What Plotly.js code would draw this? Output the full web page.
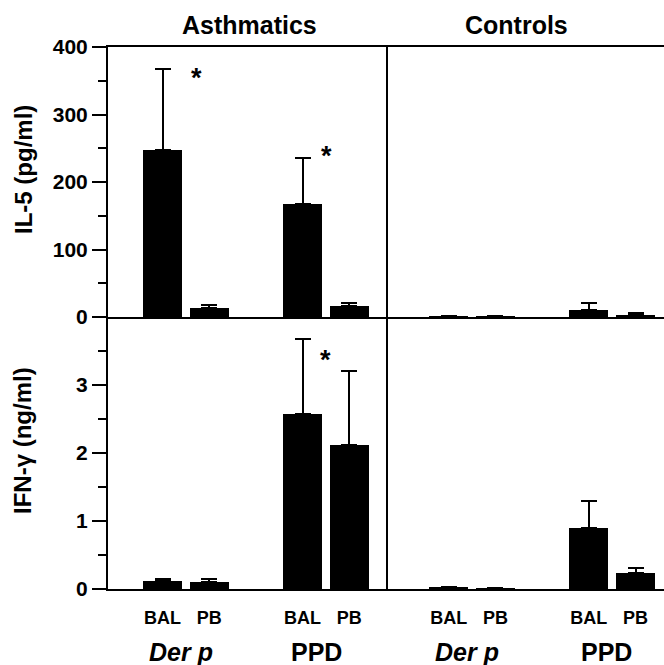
<!DOCTYPE html>
<html>
<head>
<meta charset="utf-8">
<script src="https://cdn.plot.ly/plotly-3.0.1.min.js"></script>
<style>html,body{margin:0;padding:0;background:#fff;}#chart{width:664px;height:665px;}</style>
</head>
<body>
<div id="chart"></div>
<script>
// ---- data ----
const positions = [1, 2, 4, 5];              // BAL, PB (Der p) | BAL, PB (PPD)
const sampleLabels = ['BAL', 'PB', 'BAL', 'PB'];
const antigenLabels = ['Der p', 'PPD'];
const groupTitles = ['Asthmatics', 'Controls'];

const il5Asthma = [248, 13, 168, 16];
const il5AsthmaErr = [119, 5, 68, 5];
const il5Control = [2, 1.5, 11, 3];
const il5ControlErr = [0, 0, 10, 3.5];

const ifnAsthma = [0.12, 0.10, 2.57, 2.12];
const ifnAsthmaErr = [0.03, 0.05, 1.10, 1.09];
const ifnControl = [0.03, 0.015, 0.90, 0.23];
const ifnControlErr = [0, 0, 0.40, 0.08];

// significance stars: [x, y] in panel data units
const starsIL5 = [[1.72, 366], [4.52, 250]];
const starsIFN = [[4.50, 3.49]];

// ---- build ----
const FONT = 'Liberation Sans, Arial, sans-serif';
function barTrace(y, err, xa, ya) {
  return {
    type: 'bar', x: positions, y: y, xaxis: xa, yaxis: ya,
    width: 0.835, marker: {color: '#000', line: {width: 0}},
    error_y: {type: 'data', array: err, arrayminus: err.map(() => 0), symmetric: false,
              color: '#000', thickness: 2, width: 8, visible: true},
    hoverinfo: 'none', showlegend: false
  };
}
const data = [
  barTrace(il5Asthma, il5AsthmaErr, 'x', 'y'),
  barTrace(il5Control, il5ControlErr, 'x2', 'y2'),
  barTrace(ifnAsthma, ifnAsthmaErr, 'x3', 'y3'),
  barTrace(ifnControl, ifnControlErr, 'x4', 'y4')
];

const W = 664, H = 665;
const xL = [108 / W, 388 / W], xR = [388 / W, 1];
const yT = [1 - 317 / H, 1 - 47 / H], yB = [1 - 589 / H, 1 - 317 / H];
const rangeL = [-0.17, 5.83], rangeR = [-0.30, 5.61];

const baseX = {showgrid: false, zeroline: false, showline: true, linecolor: '#000', linewidth: 2,
               fixedrange: true, automargin: false, showticklabels: false, ticks: ''};
const baseY = {showgrid: false, zeroline: false, showline: true, linecolor: '#000', linewidth: 2,
               fixedrange: true, automargin: false};
const tickFont = {family: FONT, size: 21, color: '#000', weight: 'bold'};
const catTicks = {showticklabels: true, tickmode: 'array', tickvals: positions, ticktext: sampleLabels,
                  ticks: 'outside', ticklen: 11, tickcolor: 'rgba(0,0,0,0)',
                  tickfont: {family: FONT, size: 18, color: '#000', weight: 'bold'}};

const layout = {
  width: W, height: H, margin: {l: 0, r: 0, t: 0, b: 0},
  paper_bgcolor: '#fff', plot_bgcolor: 'rgba(0,0,0,0)', bargap: 0,
  xaxis:  Object.assign({}, baseX, {domain: xL, range: rangeL, anchor: 'y', mirror: true}),
  xaxis2: Object.assign({}, baseX, {domain: xR, range: rangeR, anchor: 'y2', mirror: true}),
  xaxis3: Object.assign({}, baseX, catTicks, {domain: xL, range: rangeL, anchor: 'y3'}),
  xaxis4: Object.assign({}, baseX, catTicks, {domain: xR, range: rangeR, anchor: 'y4'}),
  yaxis:  Object.assign({}, baseY, {domain: yT, range: [0, 400], anchor: 'x', tickmode: 'linear', tick0: 0, dtick: 100,
            ticks: 'outside', ticklen: 14, tickwidth: 2, tickcolor: '#000', tickfont: tickFont,
            minor: {dtick: 50, ticks: 'outside', ticklen: 8, tickwidth: 2, tickcolor: '#000', showgrid: false}}),
  yaxis2: Object.assign({}, baseY, {domain: yT, range: [0, 400], anchor: 'x2', ticks: '', showticklabels: false}),
  yaxis3: Object.assign({}, baseY, {domain: yB, range: [0, 4], anchor: 'x3', tickmode: 'array', tickvals: [0, 1, 2, 3],
            ticks: 'outside', ticklen: 14, tickwidth: 2, tickcolor: '#000', tickfont: tickFont,
            minor: {tickmode: 'array', tickvals: [0.5, 1.5, 2.5, 3.5], ticks: 'outside', ticklen: 8, tickwidth: 2, tickcolor: '#000', showgrid: false}}),
  yaxis4: Object.assign({}, baseY, {domain: yB, range: [0, 4], anchor: 'x4', ticks: '', showticklabels: false}),
  annotations: []
};

const ann = layout.annotations;
// group titles
ann.push({text: groupTitles[0], xref: 'paper', yref: 'paper', x: 249.5 / W, y: 1 - 25 / H, showarrow: false,
          xanchor: 'center', yanchor: 'middle', font: {family: FONT, size: 25, color: '#000', weight: 'bold'}});
ann.push({text: groupTitles[1], xref: 'paper', yref: 'paper', x: 516 / W, y: 1 - 25 / H, showarrow: false,
          xanchor: 'center', yanchor: 'middle', font: {family: FONT, size: 25, color: '#000', weight: 'bold'}});
// y titles
ann.push({text: 'IL-5 (pg/ml)', xref: 'paper', yref: 'paper', x: 23 / W, y: 1 - 170 / H, textangle: -90, showarrow: false,
          xanchor: 'center', yanchor: 'middle', font: {family: FONT, size: 24, color: '#000', weight: 'bold'}});
ann.push({text: 'IFN-γ (ng/ml)', xref: 'paper', yref: 'paper', x: 23 / W, y: 1 - 441 / H, textangle: -90, showarrow: false,
          xanchor: 'center', yanchor: 'middle', font: {family: FONT, size: 24, color: '#000', weight: 'bold'}});
// antigen labels
[['x3', 1.4], ['x3', 4.3], ['x4', 1.4], ['x4', 4.38]].forEach((p, i) => {
  const isDer = i % 2 === 0;
  ann.push({text: antigenLabels[i % 2], xref: p[0], yref: 'paper', x: p[1], y: 1 - 652 / H, showarrow: false,
            xanchor: 'center', yanchor: 'middle',
            font: {family: FONT, size: 25, color: '#000', weight: 'bold', style: isDer ? 'italic' : 'normal'}});
});
// stars
starsIL5.forEach(s => ann.push({text: '*', xref: 'x', yref: 'y', x: s[0], y: s[1], yshift: -8, showarrow: false,
  font: {family: FONT, size: 27, color: '#000', weight: 'bold'}}));
starsIFN.forEach(s => ann.push({text: '*', xref: 'x3', yref: 'y3', x: s[0], y: s[1], yshift: -8, showarrow: false,
  font: {family: FONT, size: 27, color: '#000', weight: 'bold'}}));

Plotly.newPlot('chart', data, layout, {staticPlot: true, displayModeBar: false});
</script>
</body>
</html>
